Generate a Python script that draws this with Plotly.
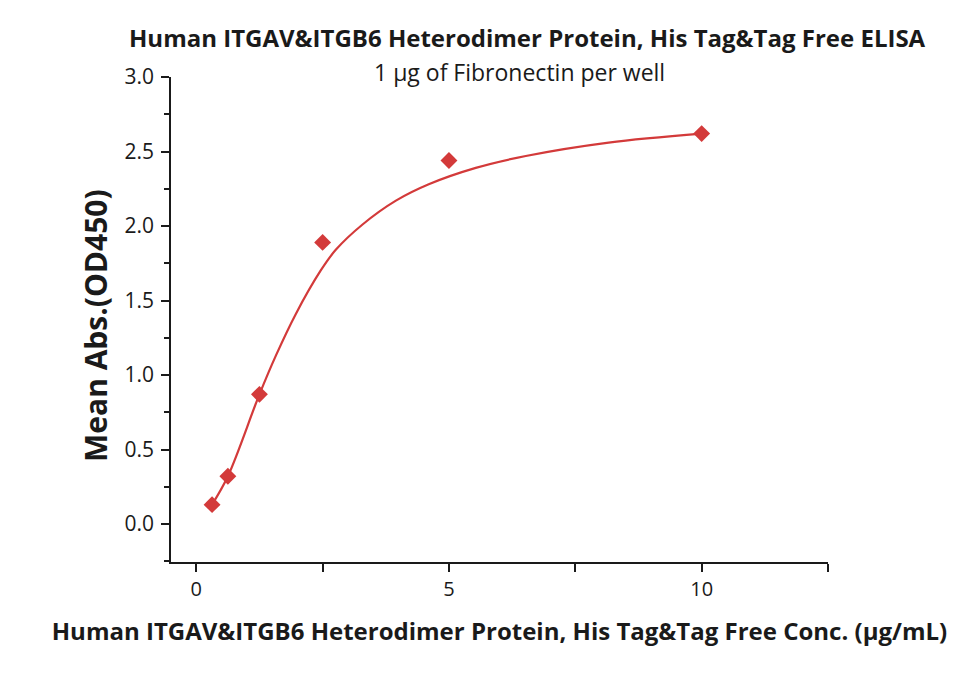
import plotly.graph_objects as go

# Measured points
conc = [0.3125, 0.625, 1.25, 2.5, 5, 10]
od450 = [0.13, 0.32, 0.87, 1.89, 2.44, 2.62]

# Fitted curve
curve_x = [0.3125, 0.625, 1.25, 1.575, 1.97, 2.46, 2.76, 3.29, 3.95, 4.60, 5.53, 6.52, 8.16, 10]
curve_y = [0.13, 0.32, 0.87, 1.13, 1.41, 1.70, 1.84, 2.01, 2.17, 2.28, 2.39, 2.47, 2.56, 2.62]

x_ticks = [0, 5, 10]
y_ticks = [0.0, 0.5, 1.0, 1.5, 2.0, 2.5, 3.0]

red = "#d33a3a"
ink = "#1a1a1a"
font_fam = "Open Sans, Noto Sans, sans-serif"

# figure is offset by the page's 8px body margin
W, H = 952, 666
L, R, T, B = 163, 132, 69, 112

fig = go.Figure()
fig.add_trace(go.Scatter(x=curve_x, y=curve_y, mode="lines",
                         line=dict(color=red, width=2.2, shape="spline", smoothing=1.0),
                         showlegend=False, hoverinfo="skip"))
fig.add_trace(go.Scatter(x=conc, y=od450, mode="markers",
                         marker=dict(symbol="diamond", size=13, color=red),
                         showlegend=False))

fig.update_layout(
    width=W, height=H,
    margin=dict(l=L, r=R, t=T, b=B),
    paper_bgcolor="white", plot_bgcolor="white",
    font=dict(family=font_fam, color=ink),
    xaxis=dict(range=[-0.5, 12.5], tickvals=x_ticks, ticktext=[str(v) for v in x_ticks],
               showgrid=False, zeroline=False, showline=True, linecolor=ink, linewidth=1.5,
               ticks="outside", ticklen=8, tickwidth=1.5, tickcolor=ink,
               tickfont=dict(size=20),
               minor=dict(tickvals=[2.5, 7.5, 12.5], ticks="outside", ticklen=8, tickwidth=1.5, tickcolor=ink),
               title=dict(text="<b>Human ITGAV&ITGB6 Heterodimer Protein, His Tag&Tag Free Conc. (μg/mL)</b>",
                          font=dict(size=24), standoff=22)),
    yaxis=dict(range=[-0.255, 3.0], tickvals=y_ticks, ticktext=[f"{v:.1f}" for v in y_ticks],
               showgrid=False, zeroline=False, showline=True, linecolor=ink, linewidth=1.5,
               ticks="outside", ticklen=8, tickwidth=1.5, tickcolor=ink,
               tickfont=dict(size=21), ticklabelstandoff=3,
               minor=dict(dtick=0.25, tick0=0, ticks="outside", ticklen=5, tickwidth=1.5, tickcolor=ink)),
    annotations=[
        dict(text="<b>Human ITGAV&ITGB6 Heterodimer Protein, His Tag&Tag Free ELISA</b>",
             x=527 - 8, y=H - (37 - 8), xref="paper", yref="paper", showarrow=False,
             font=dict(size=24)),
        dict(text="1 μg of Fibronectin per well",
             x=519 - 8, y=H - (72 - 8), xref="paper", yref="paper", showarrow=False,
             font=dict(size=23)),
        dict(text="<b>Mean Abs.(OD450)</b>", textangle=-90,
             x=95 - 8, y=H - (326 - 8), xref="paper", yref="paper", showarrow=False,
             font=dict(size=30)),
    ],
)

# convert pixel positions of annotations to paper coords
pw = W - L - R
ph = H - T - B
for a in fig.layout.annotations:
    a.x = (a.x - L) / pw
    a.y = (a.y - B) / ph
    a.xanchor = "center"
    a.yanchor = "middle"

fig.write_html("out.html")
